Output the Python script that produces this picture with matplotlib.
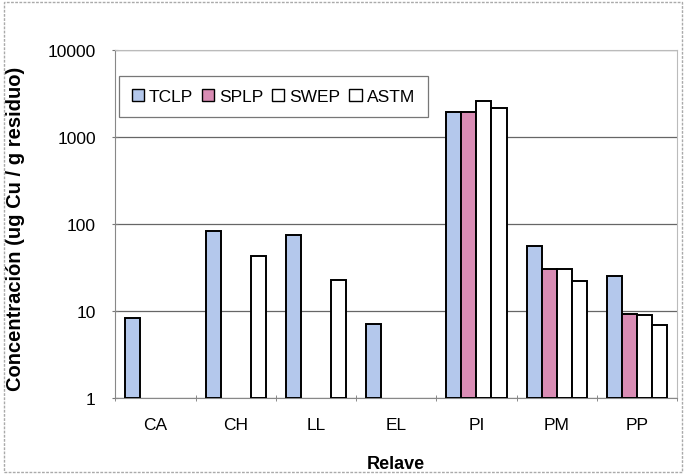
import matplotlib
matplotlib.use("Agg")
import matplotlib.pyplot as plt
import numpy as np
from matplotlib.patches import Rectangle

plt.rcParams['font.family'] = ['Liberation Sans', 'DejaVu Sans']

categories = ["CA", "CH", "LL", "EL", "PI", "PM", "PP"]
series_names = ["TCLP", "SPLP", "SWEP", "ASTM"]
tclp = [8.2, 82, 74, 7.0, 1950, 55, 25]
splp = [np.nan, np.nan, np.nan, np.nan, 1950, 30, 9.2]
swep = [np.nan, np.nan, np.nan, np.nan, 2600, 30, 8.9]
astm = [np.nan, 43, 22.5, np.nan, 2150, 22, 6.8]
colors = ["#b4c8ec", "#d98cb4", "white", "white"]
y_ticks = [1, 10, 100, 1000, 10000]

fig = plt.figure(figsize=(6.86, 4.77), dpi=100)
ax = fig.add_axes([0.168, 0.164, 0.819, 0.729])

x = np.arange(len(categories))
w = 0.1875
for i, (vals, c, name) in enumerate(zip([tclp, splp, swep, astm], colors, series_names)):
    v = np.array(vals, dtype=float)
    m = ~np.isnan(v)
    ax.bar((x + (i - 1.5) * w)[m], v[m] - 1, bottom=1, width=w,
           color=c, edgecolor="black", linewidth=1.4, label=name, zorder=3)

ax.set_yscale("log")
ax.set_ylim(1, 10000)
ax.set_xlim(-0.5, len(categories) - 0.5)
ax.set_yticks(y_ticks)
ax.set_yticklabels([str(t) for t in y_ticks], fontsize=12.5)
ax.yaxis.set_minor_locator(matplotlib.ticker.NullLocator())
ax.set_xticks(x)
ax.set_xticklabels(categories, fontsize=12.5)
ax.tick_params(axis="x", length=0, pad=14)
ax.set_xticks(np.arange(-0.5, len(categories), 1), minor=True)
ax.tick_params(axis="x", which="minor", length=4, direction="inout", color="#777777")
ax.tick_params(axis="y", length=4, direction="inout", color="#777777", pad=12)
ax.grid(axis="y", color="#666666", linewidth=0.9, zorder=0)
for s in ["top", "right"]:
    ax.spines[s].set_color("#bbbbbb")
    ax.spines[s].set_linestyle((0, (2, 1)))
for s in ["left", "bottom"]:
    ax.spines[s].set_color("#888888")

ax.set_ylabel("Concentración (ug Cu / g residuo)", fontsize=14.5, fontweight="bold")
ax.yaxis.set_label_coords(-0.16, 0.49)
ax.set_xlabel("Relave", fontsize=13, fontweight="bold")
ax.xaxis.set_label_coords(0.5, -0.165)

leg = ax.legend(loc="upper left", ncol=4, bbox_to_anchor=(0.0, 0.935), fontsize=12.5,
                frameon=True, fancybox=False, edgecolor="#555555", handlelength=0.7,
                handleheight=0.7, handletextpad=0.3, columnspacing=0.5, borderpad=0.75,
                borderaxespad=0.2)
leg.get_frame().set_linewidth(0.9)
for h in leg.legend_handles:
    h.set_linewidth(1.0)

fig.patches.append(Rectangle((0.006, 0.008), 0.988, 0.985, transform=fig.transFigure,
                             fill=False, edgecolor="#aaaaaa", linewidth=1.0,
                             linestyle=(0, (2, 1))))

fig.savefig("out.png", dpi=100)
